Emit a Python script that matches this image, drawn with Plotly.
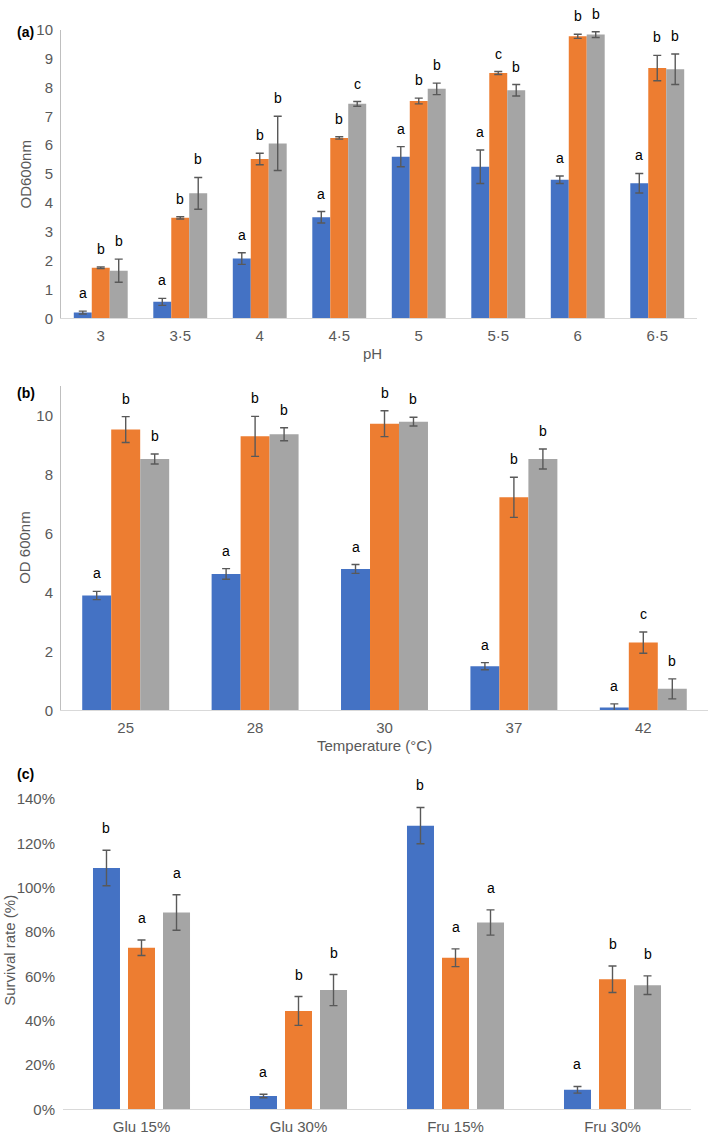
import numpy as np
import plotly.graph_objects as go
from plotly.subplots import make_subplots

# (a) pH
ph_cats = ['3', '3·5', '4', '4·5', '5', '5·5', '6', '6·5']
ph_blue = [0.20, 0.57, 2.07, 3.50, 5.60, 5.25, 4.80, 4.68]
ph_blue_err = [0.05, 0.12, 0.20, 0.20, 0.35, 0.58, 0.13, 0.34]
ph_orange = [1.75, 3.48, 5.52, 6.25, 7.53, 8.50, 9.77, 8.67]
ph_orange_err = [0.03, 0.04, 0.20, 0.04, 0.10, 0.05, 0.07, 0.44]
ph_gray = [1.65, 4.33, 6.06, 7.43, 7.95, 7.90, 9.83, 8.63]
ph_gray_err = [0.40, 0.55, 0.94, 0.08, 0.20, 0.20, 0.10, 0.53]
ph_letters = [['a'] * 8,
              ['b', 'b', 'b', 'b', 'b', 'c', 'b', 'b'],
              ['b', 'b', 'b', 'c', 'b', 'b', 'b', 'b']]

# (b) temperature
temp_cats = ['25', '28', '30', '37', '42']
temp_blue = [3.90, 4.63, 4.80, 1.50, 0.10]
temp_blue_err = [0.14, 0.18, 0.15, 0.12, 0.12]
temp_orange = [9.53, 9.30, 9.73, 7.23, 2.30]
temp_orange_err = [0.44, 0.68, 0.44, 0.68, 0.36]
temp_gray = [8.53, 9.37, 9.80, 8.53, 0.73]
temp_gray_err = [0.17, 0.22, 0.15, 0.34, 0.34]
temp_letters = [['a'] * 5,
                ['b', 'b', 'b', 'b', 'c'],
                ['b', 'b', 'b', 'b', 'b']]

# (c) sugar survival (%)
sugar_cats = ['Glu 15%', 'Glu 30%', 'Fru 15%', 'Fru 30%']
sugar_blue = [108.9, 6.0, 128.0, 8.8]
sugar_blue_err = [8.0, 0.8, 8.2, 1.5]
sugar_orange = [72.9, 44.4, 68.4, 58.7]
sugar_orange_err = [3.5, 6.5, 4.0, 6.0]
sugar_gray = [88.8, 53.8, 84.3, 56.0]
sugar_gray_err = [8.0, 7.0, 5.7, 4.2]
sugar_letters = [['b', 'a', 'b', 'a'],
                 ['a', 'b', 'a', 'b'],
                 ['a', 'b', 'a', 'b']]

colors = ['#4472C4', '#ED7D31', '#A5A5A5']
FONT = 'Liberation Sans, Arial, sans-serif'
W, H = 709, 1139

fig = make_subplots(rows=3, cols=1)
annotations = []

panels = [
    (1, ph_cats, [ph_blue, ph_orange, ph_gray], [ph_blue_err, ph_orange_err, ph_gray_err],
     ph_letters, 0.226, 0.226, 8),
    (2, temp_cats, [temp_blue, temp_orange, temp_gray], [temp_blue_err, temp_orange_err, temp_gray_err],
     temp_letters, 0.224, 0.224, 8),
    (3, sugar_cats, [sugar_blue, sugar_orange, sugar_gray], [sugar_blue_err, sugar_orange_err, sugar_gray_err],
     sugar_letters, 0.223, 0.172, 12),
]

for row, cats, series, errs, letters, slot, bw, shift in panels:
    x = np.arange(len(cats))
    xref = 'x' if row == 1 else 'x%d' % row
    yref = 'y' if row == 1 else 'y%d' % row
    for k in range(3):
        off = (k - 1) * slot - bw / 2
        fig.add_trace(go.Bar(x=x, y=series[k], width=bw, offset=off,
                             marker=dict(color=colors[k], line=dict(width=0)),
                             error_y=dict(type='data', array=errs[k], color='#595959',
                                          thickness=1.4, width=4),
                             showlegend=False), row=row, col=1)
        for i in range(len(cats)):
            annotations.append(dict(x=i + (k - 1) * slot, y=series[k][i] + errs[k][i],
                                    xref=xref, yref=yref, text=letters[k][i], showarrow=False,
                                    yanchor='bottom', yshift=shift,
                                    font=dict(family=FONT, size=14, color='black')))
    fig.update_xaxes(tickvals=list(x), ticktext=cats, range=[-0.5, len(cats) - 0.5], row=row, col=1)


def px(xp, yp):
    return xp / W, 1 - yp / H


# panel labels and axis titles
texts = [
    ('(a)', 25, 23, 0, True), ('(b)', 26, 390, 0, True), ('(c)', 25, 777, 0, True),
    ('OD600nm', 25, 168, -90, False), ('pH', 373, 350, 0, False),
    ('OD 600nm', 25, 547, -90, False), ('Temperature (°C)', 375, 748, 0, False),
    ('Survival rate (%)', 10, 956, -90, False),
]
for t, xp, yp, ang, bold in texts:
    xx, yy = px(xp, yp)
    annotations.append(dict(x=xx, y=yy, xref='paper', yref='paper', text='<b>%s</b>' % t if bold else t,
                            showarrow=False, textangle=ang, xanchor='center', yanchor='middle',
                            font=dict(family=FONT, size=14 if bold else 15,
                                      color='black' if bold else '#595959')))

axis_common = dict(showgrid=False, zeroline=False, showline=True, linecolor='#BFBFBF', linewidth=1,
                   ticks='outside', ticklen=4, tickcolor='rgba(0,0,0,0)',
                   tickfont=dict(family=FONT, size=15, color='#595959'))

fig.update_layout(
    width=W, height=H, margin=dict(l=0, r=0, t=0, b=0),
    plot_bgcolor='white', paper_bgcolor='white', barmode='overlay',
    xaxis=dict(domain=[61 / W, 697 / W], anchor='y', **axis_common),
    yaxis=dict(domain=[1 - 314 / H, 1 - 21 / H], range=[0, 10], dtick=1, anchor='x', **axis_common),
    xaxis2=dict(domain=[61 / W, 708 / W], anchor='y2', **axis_common),
    yaxis2=dict(domain=[1 - 712 / H, 1 - 383 / H], range=[0, 11], tickvals=[0, 2, 4, 6, 8, 10],
                anchor='x2', **axis_common),
    xaxis3=dict(domain=[63 / W, 691 / W], anchor='y3', **axis_common),
    yaxis3=dict(domain=[1 - 1117 / H, 1 - 802 / H], range=[0, 140], dtick=20, ticksuffix='%',
                anchor='x3', **axis_common),
    annotations=annotations,
)
fig.update_yaxes(showline=False, row=3, col=1)
fig.update_xaxes(linecolor='#D9D9D9')

# page body has a default 8px margin; remove it so the figure fills the window
fig.write_html('out.html', config={'displayModeBar': False},
               post_script="document.body.style.margin='0';")
